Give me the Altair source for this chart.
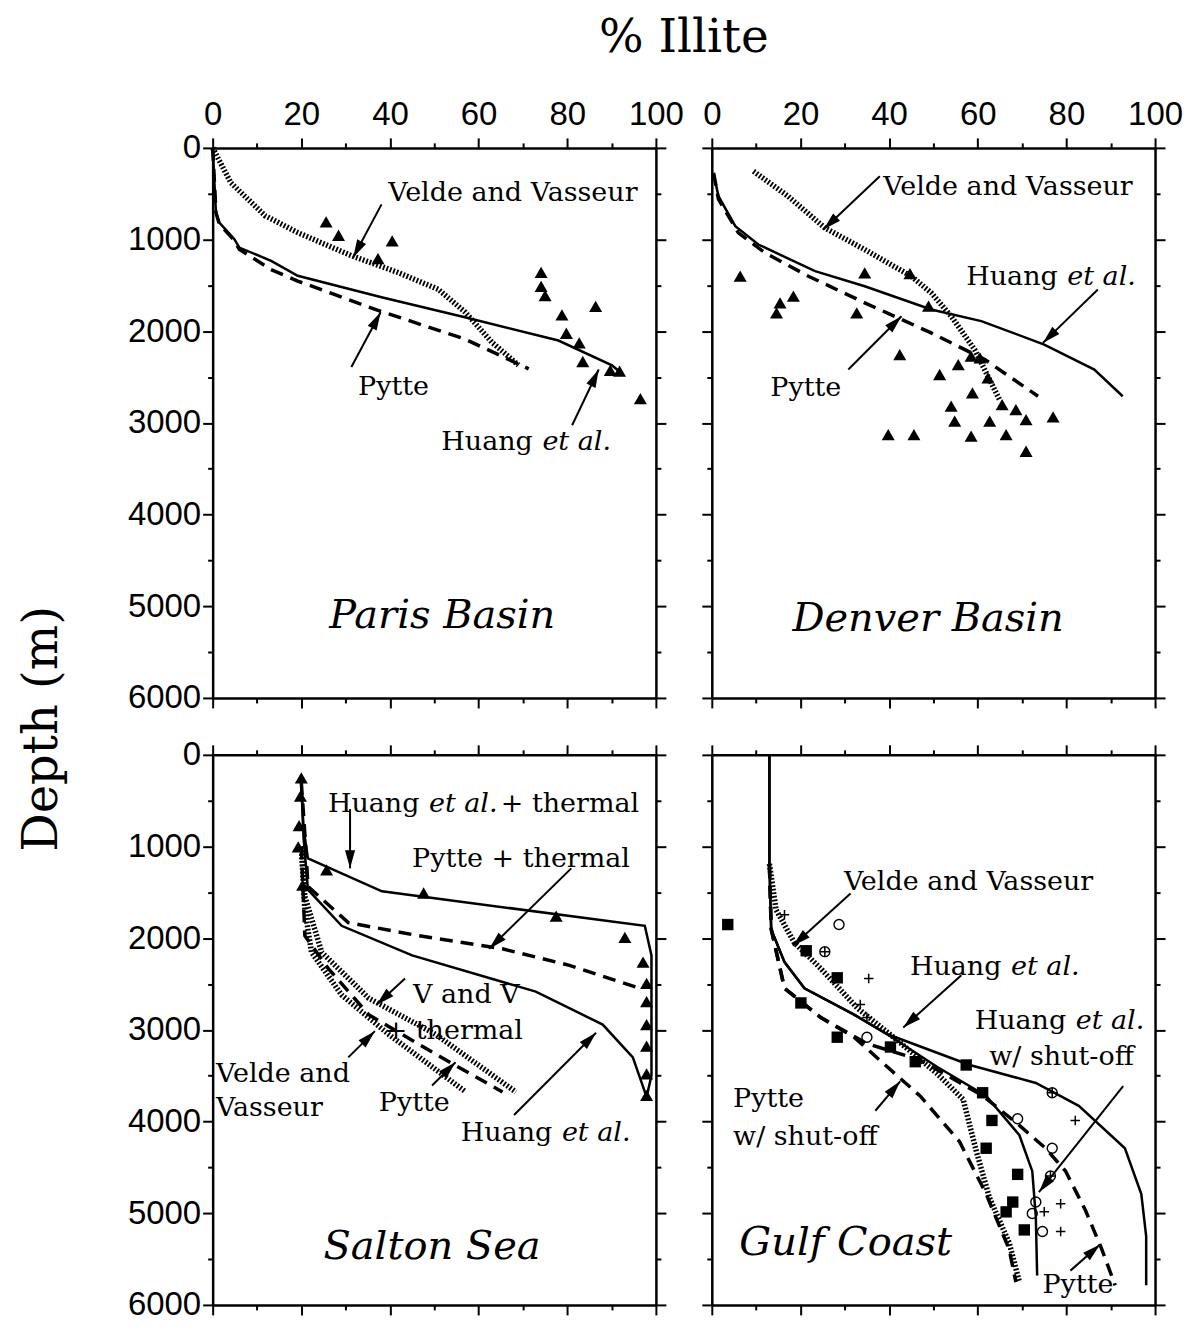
import altair as alt
import pandas as pd
import numpy as np

W, H = 444, 551

# ---------------- Paris Basin ----------------
paris_tri_x = [25.6, 28.4, 40.5, 37.3, 74.1, 74.1, 75.0, 86.4, 78.8, 79.8, 82.7, 83.5, 89.7, 91.8, 96.5]
paris_tri_y = [808, 953, 1014, 1207, 1359, 1511, 1612, 1728, 1822, 2022, 2127, 2330, 2428, 2435, 2736]
paris_huang_x = [0, 0.75, 1.5, 4.9, 6.0, 13.2, 19.2, 38.1, 56.9, 78.0, 90.1, 92.4]
paris_huang_y = [0, 707, 815, 996, 1087, 1232, 1395, 1630, 1848, 2101, 2373, 2464]
paris_pytte_x = [0, 0.75, 1.5, 4.9, 6.0, 13.1, 19.2, 37.3, 57.0, 71.3]
paris_pytte_y = [0, 707, 830, 1010, 1105, 1326, 1453, 1772, 2087, 2410]
paris_velde_x = [0, 4.1, 11.8, 19.2, 31.2, 41.8, 50.9, 57.0, 63.0, 69.0]
paris_velde_y = [0, 380, 739, 924, 1174, 1359, 1543, 1793, 2120, 2370]

# ---------------- Denver Basin ----------------
denver_tri_x = [6.4, 34.5, 44.7, 18.4, 15.4, 14.6, 32.7, 48.9, 42.4, 58.5, 60.5, 55.6, 51.4, 62.3,
                58.8, 65.5, 54.0, 68.6, 70.9, 54.8, 62.7, 77.0, 39.8, 45.6, 58.5, 66.4, 70.9]
denver_tri_y = [1400, 1363, 1371, 1618, 1690, 1800, 1800, 1727, 2254, 2272, 2290, 2363, 2472, 2509,
                2672, 2800, 2818, 2854, 2963, 2981, 2981, 2933, 3127, 3127, 3145, 3127, 3309]
denver_huang_x = [0.4, 1.5, 5.3, 10.5, 23.3, 34.5, 49.5, 60.8, 75.0, 86.3, 92.7]
denver_huang_y = [273, 527, 854, 1054, 1345, 1509, 1763, 1890, 2145, 2418, 2709]
denver_pytte_x = [0.4, 1.5, 6.0, 12.0, 21.8, 34.5, 49.5, 61.6, 73.6]
denver_pytte_y = [273, 560, 927, 1145, 1400, 1690, 2018, 2309, 2709]
denver_velde_x = [9.4, 17.2, 25.5, 34.5, 45.0, 49.5, 54.0, 59.3, 64.9]
denver_velde_y = [255, 527, 873, 1109, 1400, 1581, 1836, 2200, 2745]

# ---------------- Salton Sea ----------------
salton_tri_x = [20.0, 19.8, 19.5, 19.3, 20.3, 25.7, 47.6, 77.5, 93.0, 97.1, 97.9, 97.9, 97.9, 97.9, 97.9, 97.9]
salton_tri_y = [251, 450, 771, 1004, 1420, 1255, 1507, 1758, 1991, 2260, 2493, 2691, 2942, 3176, 3480, 3714]
salton_huang_th_x = [20.0, 20.5, 21.5, 38.2, 97.5, 99.0, 99.0, 97.9]
salton_huang_th_y = [300, 800, 1130, 1489, 1865, 2188, 3500, 3731]
salton_huang_x = [20.0, 20.5, 21.5, 29.1, 45.0, 72.9, 88.0, 94.8, 97.9]
salton_huang_y = [300, 900, 1470, 1865, 2188, 2583, 2942, 3300, 3731]
salton_pytte_th_x = [20.0, 21.0, 21.5, 30.6, 46.5, 65.4, 80.5, 96.4]
salton_pytte_th_y = [300, 1000, 1435, 1830, 1973, 2116, 2296, 2547]
salton_vvth_x = [20.0, 20.8, 24.6, 35.2, 50.3, 68.4]
salton_vvth_y = [1000, 1543, 2153, 2654, 3049, 3677]
salton_velde_x = [20.0, 20.8, 22.3, 29.1, 39.7, 57.1]
salton_velde_y = [1000, 1686, 2153, 2619, 3049, 3677]
salton_pytte_x = [20.0, 20.8, 26.1, 35.2, 50.3, 65.4]
salton_pytte_y = [1000, 1973, 2331, 2834, 3265, 3677]

# ---------------- Gulf Coast ----------------
gulf_huang_x = [13.0, 13.0, 13.4, 16.4, 20.9, 32.0, 39.5, 58.2, 73.1, 82.8, 93.2, 96.9, 98.0, 98.0]
gulf_huang_y = [0, 1200, 1905, 2261, 2546, 2831, 3045, 3383, 3579, 3828, 4291, 4790, 5252, 5786]
gulf_huang_so_x = [13.0, 13.0, 13.4, 16.4, 20.9, 32.0, 39.5, 50.7, 61.9, 69.4, 72.3, 73.1, 73.4]
gulf_huang_so_y = [0, 1200, 1905, 2261, 2546, 2831, 3045, 3400, 3721, 4149, 4541, 5039, 5680]
gulf_velde_x = [13.0, 14.5, 18.6, 24.6, 32.8, 41.0, 50.7, 56.7, 59.7, 62.6, 67.1, 69.4]
gulf_velde_y = [1190, 1691, 2047, 2332, 2760, 3080, 3472, 3757, 4327, 4825, 5324, 5751]
gulf_pytte_so_x = [13.0, 13.4, 16.4, 24.6, 32.1, 39.5, 47.0, 55.9, 61.9, 67.1, 68.6]
gulf_pytte_so_y = [1200, 1900, 2546, 2866, 3080, 3400, 3721, 4220, 4790, 5395, 5751]
gulf_pytte_x = [13.0, 13.4, 16.4, 24.6, 35.0, 47.0, 61.2, 69.4, 75.3, 79.8, 84.3, 88.0, 91.0]
gulf_pytte_y = [1200, 1900, 2546, 2866, 3150, 3329, 3721, 4042, 4291, 4540, 4968, 5395, 5786]
gulf_sq_x = [3.6, 21.3, 28.3, 20.1, 28.3, 40.3, 45.9, 57.4, 61.1, 63.2, 61.9, 69.0, 67.9, 66.4, 70.5]
gulf_sq_y = [1851, 2137, 2432, 2706, 3080, 3187, 3347, 3383, 3686, 3988, 4291, 4576, 4878, 4985, 5182]
gulf_circ_x = [28.7, 35.0, 69.0, 76.8, 73.1, 72.3, 74.6]
gulf_circ_y = [1851, 3080, 3970, 4291, 4878, 5003, 5199]
gulf_ccirc_x = [25.5, 76.8, 76.4]
gulf_ccirc_y = [2147, 3686, 4594]
gulf_plus_x = [16.4, 35.4, 33.5, 35.0, 82.0, 78.7, 78.7, 75.0]
gulf_plus_y = [1744, 2439, 2724, 2866, 3988, 4896, 5199, 4985]

# ---------------- annotations: (text, x, y, italic) ----------------
paris_text = [("Velde and Vasseur", 39.6, 489, False), ("Pytte", 32.8, 2609, False),
              ("Huang", 51.6, 3207, False), ("et al.", 74.4, 3207, True)]
denver_text = [("Velde and Vasseur", 38.7, 422, False), ("Huang", 57.4, 1414, False),
               ("et al.", 80.2, 1414, True), ("Pytte", 13.2, 2618, False)]
salton_text = [("Huang", 26.0, 531, False), ("et al.", 48.8, 531, True), ("+ thermal", 65.0, 531, False),
               ("Pytte + thermal", 45.0, 1133, False), ("V and V", 45.2, 2619, False),
               ("+ thermal", 38.8, 3017, False), ("Velde and", 0.75, 3480, False),
               ("Vasseur", 0.75, 3857, False), ("Pytte", 37.5, 3803, False),
               ("Huang", 56.0, 4126, False), ("et al.", 78.8, 4126, True)]
gulf_text = [("Velde and Vasseur", 29.8, 1392, False), ("Huang", 44.7, 2314, False),
             ("et al.", 67.5, 2314, True), ("Huang", 59.3, 2902, False), ("et al.", 82.1, 2902, True),
             ("w/ shut-off", 62.6, 3294, False), ("Pytte", 4.8, 3757, False),
             ("w/ shut-off", 4.8, 4167, False), ("Pytte", 74.6, 5786, False)]

# arrows: (x_start, y_start, x_tip, y_tip)
paris_arrows = [(38.1, 616, 31.7, 1196), (31.3, 2391, 37.9, 1793), (81.1, 3025, 87.1, 2417)]
denver_arrows = [(37.9, 310, 25.2, 891), (87.1, 1545, 74.7, 2127), (30.8, 2417, 42.8, 1836)]
salton_arrows = [(31.0, 592, 31.0, 1238), (80.9, 1238, 62.4, 2116), (43.4, 2439, 37.0, 2726),
                 (30.6, 3300, 36.6, 3014), (49.5, 3606, 54.8, 3354), (68.0, 3929, 86.5, 3031)]
gulf_arrows = [(31.3, 1513, 18.3, 2083), (56.3, 2404, 43.2, 2973), (92.8, 3614, 73.8, 4771),
               (36.9, 3882, 42.5, 3561), (80.9, 5626, 87.6, 5342)]

panel_titles = ["Paris Basin", "Denver Basin", "Salton Sea", "Gulf Coast"]
panel_title_x = [51.8, 48.8, 49.5, 30.2]
panel_title_y = [5109, 5144, 5364, 5324]

x_ticks = list(range(0, 101, 10))
y_ticks = list(range(0, 6001, 500))

SERIF = "DejaVu Serif"
SANS = "Liberation Sans, Arial, sans-serif"
HEAD = "M0,0L-0.28,1L0.28,1Z"


def xs():
    return alt.Scale(domain=[0, 100], nice=False, zero=False)


def ys():
    return alt.Scale(domain=[0, 6000], nice=False, zero=False, reverse=True)


def X(field="x", axis=None):
    return alt.X(f"{field}:Q", scale=xs(), axis=axis)


def Y(field="y", axis=None):
    return alt.Y(f"{field}:Q", scale=ys(), axis=axis)


def base_axis(**kw):
    return alt.Axis(domainColor="black", domainWidth=2.5, tickColor="black", tickWidth=2,
                    labelFont=SANS, labelFontSize=33, labelColor="black", grid=False, title=None,
                    labelFlush=False, labelOverlap=False, labelBound=False, format="d", **kw)


def lines_df(series):
    rows = []
    for name, xv, yv in series:
        for i, (a, b) in enumerate(zip(xv, yv)):
            rows.append({"series": name, "i": i, "x": a, "y": b})
    return pd.DataFrame(rows)


def panel(solid, dashed, dotted, scatters, texts, arrows, title_idx, show_x, show_y, extras=()):
    frame = pd.DataFrame({"x": [0, 100], "y": [0, 6000]})
    ax_top = base_axis(orient="top", values=x_ticks, labels=show_x,
                       tickSize={"condition": {"test": "datum.value % 20 === 0", "value": 10}, "value": 5},
                       labelExpr="datum.value % 20 === 0 ? datum.label : ''", labelPadding=6)
    ax_left = base_axis(orient="left", values=y_ticks, labels=show_y,
                        tickSize={"condition": {"test": "datum.value % 1000 === 0", "value": 10}, "value": 5},
                        labelExpr="datum.value % 1000 === 0 ? datum.label : ''", labelPadding=2)
    ax_bot = base_axis(orient="bottom", values=x_ticks, labels=False,
                       tickSize={"condition": {"test": "datum.value % 20 === 0", "value": 10}, "value": 5})
    ax_right = base_axis(orient="right", values=y_ticks, labels=False,
                         tickSize={"condition": {"test": "datum.value % 1000 === 0", "value": 10}, "value": 5})
    layers = [
        alt.Chart(frame).mark_point(opacity=0).encode(x=X(axis=ax_top), y=Y(axis=ax_left)),
        alt.Chart(frame).mark_point(opacity=0).encode(x=X(axis=ax_bot), y=Y(axis=ax_right)),
    ]
    if dotted:
        layers.append(alt.Chart(lines_df(dotted)).mark_line(color="black", strokeWidth=5.5, strokeDash=[1.8, 1.8])
                      .encode(x=X(), y=Y(), detail="series:N", order="i:Q"))
    if dashed:
        layers.append(alt.Chart(lines_df(dashed)).mark_line(color="black", strokeWidth=3.5, strokeDash=[13, 8])
                      .encode(x=X(), y=Y(), detail="series:N", order="i:Q"))
    if solid:
        layers.append(alt.Chart(lines_df(solid)).mark_line(color="black", strokeWidth=2.5)
                      .encode(x=X(), y=Y(), detail="series:N", order="i:Q"))
    for xv, yv, props in scatters:
        layers.append(alt.Chart(pd.DataFrame({"x": xv, "y": yv})).mark_point(opacity=1, **props)
                      .encode(x=X(), y=Y()))
    # arrows
    adf = pd.DataFrame(arrows, columns=["x", "y", "x2", "y2"])
    dxp = (adf["x2"] - adf["x"]) * W / 100.0
    dyp = (adf["y2"] - adf["y"]) * H / 6000.0
    adf["ang"] = (np.degrees(np.arctan2(dxp, -dyp)) + 360.0) % 360.0
    layers.append(alt.Chart(adf).mark_rule(color="black", strokeWidth=2)
                  .encode(x=X(), y=Y(), x2="x2:Q", y2="y2:Q"))
    layers.append(alt.Chart(adf).mark_point(shape=HEAD, filled=True, color="black", opacity=1, size=1300)
                  .encode(x=X("x2"), y=Y("y2"), angle=alt.Angle("ang:Q", scale=None)))
    # texts
    tdf = pd.DataFrame(texts, columns=["label", "x", "y", "italic"])
    for flag, style in [(False, "normal"), (True, "italic")]:
        sub = tdf[tdf["italic"] == flag]
        if len(sub):
            layers.append(alt.Chart(sub).mark_text(font=SERIF, fontSize=27, fontStyle=style, align="left",
                                                   baseline="middle", color="black")
                          .encode(x=X(), y=Y(), text="label:N"))
    ttl = pd.DataFrame({"label": [panel_titles[title_idx]], "x": [panel_title_x[title_idx]],
                        "y": [panel_title_y[title_idx]]})
    layers.append(alt.Chart(ttl).mark_text(font=SERIF, fontSize=40, fontStyle="italic", align="center",
                                           baseline="middle", color="black")
                  .encode(x=X(), y=Y(), text="label:N"))
    layers.extend(extras)
    return alt.layer(*layers).resolve_scale(x="independent", y="independent").properties(width=W, height=H)


tri = dict(shape="triangle-up", filled=True, color="black", size=170)
sq = dict(shape="square", filled=True, color="black", size=130)
circ = dict(shape="circle", filled=False, color="black", size=100, strokeWidth=1.4)
plus = dict(shape="M-1,0L1,0M0,-1L0,1", filled=False, color="black", size=90, strokeWidth=1.5)

title_df = pd.DataFrame({"t": ["% Illite"]})
depth_df = pd.DataFrame({"t": ["Depth (m)"]})
extras_tl = [
    alt.Chart(title_df).mark_text(font=SERIF, fontSize=47, align="center", baseline="middle", color="black")
    .encode(x=alt.value(472), y=alt.value(-110), text="t:N"),
    alt.Chart(depth_df).mark_text(font=SERIF, fontSize=48, align="center", baseline="middle", color="black",
                                  angle=270)
    .encode(x=alt.value(-170), y=alt.value(582), text="t:N"),
]

p1 = panel([("h", paris_huang_x, paris_huang_y)], [("p", paris_pytte_x, paris_pytte_y)],
           [("v", paris_velde_x, paris_velde_y)], [(paris_tri_x, paris_tri_y, tri)],
           paris_text, paris_arrows, 0, True, True, extras_tl)
p2 = panel([("h", denver_huang_x, denver_huang_y)], [("p", denver_pytte_x, denver_pytte_y)],
           [("v", denver_velde_x, denver_velde_y)], [(denver_tri_x, denver_tri_y, tri)],
           denver_text, denver_arrows, 1, True, False)
p3 = panel([("ht", salton_huang_th_x, salton_huang_th_y), ("h", salton_huang_x, salton_huang_y)],
           [("pt", salton_pytte_th_x, salton_pytte_th_y), ("p", salton_pytte_x, salton_pytte_y)],
           [("vt", salton_vvth_x, salton_vvth_y), ("v", salton_velde_x, salton_velde_y)],
           [(salton_tri_x, salton_tri_y, tri)],
           salton_text, salton_arrows, 2, False, True)
p4 = panel([("h", gulf_huang_x, gulf_huang_y), ("hs", gulf_huang_so_x, gulf_huang_so_y)],
           [("p", gulf_pytte_x, gulf_pytte_y), ("ps", gulf_pytte_so_x, gulf_pytte_so_y)],
           [("v", gulf_velde_x, gulf_velde_y)],
           [(gulf_sq_x, gulf_sq_y, sq), (gulf_circ_x, gulf_circ_y, circ),
            (gulf_ccirc_x, gulf_ccirc_y, circ), (gulf_ccirc_x, gulf_ccirc_y, plus),
            (gulf_plus_x, gulf_plus_y, plus)],
           gulf_text, gulf_arrows, 3, False, False)

chart = alt.concat(p1, p2, p3, p4, columns=2, spacing={"row": 57, "column": 56}, bounds="flush").properties(
    padding={"left": 11, "top": 5, "right": 0, "bottom": 0}
).configure_view(stroke=None)

chart.save("out.html", embed_options={"renderer": "svg", "actions": False})
